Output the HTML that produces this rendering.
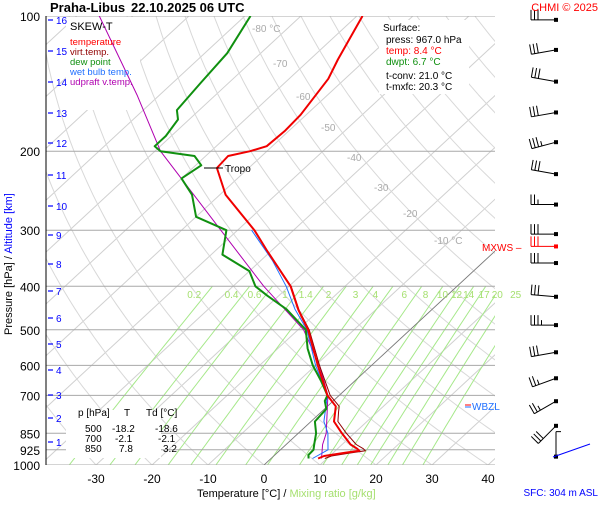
<!DOCTYPE html>
<html><head><meta charset="utf-8"><style>
body{margin:0;background:#fff}
svg{font-family:"Liberation Sans",sans-serif}
</style></head><body>
<svg id="c" width="600" height="500" viewBox="0 0 600 500" xmlns="http://www.w3.org/2000/svg">
<rect width="600" height="500" fill="#fff"/>
<defs><clipPath id="pa"><rect x="46" y="16" width="449" height="449"/></clipPath></defs>
<g id="grid" clip-path="url(#pa)"></g>
<rect x="66" y="17" width="74" height="93" fill="#fff"/>
<rect x="379" y="20" width="90" height="74" fill="#fff"/>
<g id="series" clip-path="url(#pa)"></g>
<g id="axes"></g>
<g id="barbs"></g>
</svg>
<script>
// ---- data ----
const pressureTicks=[100,200,300,400,500,600,700,850,925,1000];
const altTicks=[1,2,3,4,5,6,7,8,9,10,11,12,13,14,15,16];
const altTickY=[442,418,395,370,344,318,291,264,235,206,175,143,113,82,51,20];
const tempTicks=[-30,-20,-10,0,10,20,30,40];
const isoLabels=[-80,-70,-60,-50,-40,-30,-20,-10];
const mixRatios=[0.2,0.4,0.6,1,1.4,2,3,4,6,8,10,12,14,17,20,25];
const tP=[967,955,940,930,920,900,850,800,760,740,700,600,500,452,400,332,300,250,218,205,200,195,180,166,138,125,100];
const tT=[8.4,9.0,12,14.3,13.5,11.5,7.8,4.1,2.4,1.5,-2.1,-9.6,-18.2,-23.7,-29.7,-41,-47,-59,-65.7,-66,-63,-61,-60.7,-61,-63,-65,-69];
const tvT=[9.6,10.3,13.2,15.4,14.6,12.5,8.6,4.8,3.0,2.1,-1.6,-9.3,-18.0,-23.6,-29.6,-41,-47,-59,-65.7,-66,-63,-61,-60.7,-61,-63,-65,-69];
const dP=[967,950,925,900,850,800,750,720,700,650,600,550,500,450,420,400,370,340,300,280,250,230,215,205,200,195,185,170,162,141,121,100];
const dT=[6.7,6,5.9,5,3.2,0.7,0.3,-1.5,-2.1,-6,-10.5,-14.7,-18.6,-26,-32,-36,-40,-48,-52,-60,-65,-70,-69,-72,-79,-81,-81,-82,-84,-85,-86,-89];
const wP=[967,925,850,800,700,600,500,450,400,350,300];
const wT=[7.4,8.5,5.3,2.3,-2.1,-10,-18.4,-24.5,-30.5,-38,-47.5];
const uP=[967,900,850,700,600,500,400,300,200,150,100];
const uT=[9,6.5,5,-2,-9.3,-19,-34.5,-53,-79,-94,-116];
const barbP=[102,119,140,164,191,225,263,306,326,355,422,488,561,641,721,818,958];
const barbDir=[270,260,280,260,255,280,270,270,270,270,275,270,260,250,240,225,0];
const barbSpd=[30,30,30,30,35,30,25,30,30,30,30,35,30,25,25,30,5];
// ---- scales ----
function Y(p){return 16+449*Math.log10(p/100);}
function X(t,p){return 264+5.6*t+1.08*(465-Y(p));}
const NS="http://www.w3.org/2000/svg";
function mk(tag,attrs,parent){const e=document.createElementNS(NS,tag);for(const k in attrs)e.setAttribute(k,attrs[k]);parent.appendChild(e);return e;}
const grid=document.getElementById('grid'),series=document.getElementById('series'),axes=document.getElementById('axes'),barbs=document.getElementById('barbs');
function poly(pts,stroke,w,parent,name){const e=mk('polyline',{points:pts.map(a=>a[0].toFixed(1)+','+a[1].toFixed(1)).join(' '),fill:'none',stroke:stroke,'stroke-width':w,'stroke-linejoin':'round'},parent);

return e;}
function txt(x,y,s,attrs,parent,name){const e=mk('text',Object.assign({x:x,y:y},attrs),parent);e.textContent=s;

return e;}
// isotherms
for(let t=-160;t<=40;t+=10){poly([[X(t,1000),Y(1000)],[X(t,100),Y(100)]],'#d0d0d0',1,grid,'isotherm');}
// dry adiabats
for(let th=-40;th<=220;th+=10){const pts=[];for(let p=1000;p>=100;p-=10){pts.push([X((th+273.15)*Math.pow(p/1000,0.286)-273.15,p),Y(p)]);}poly(pts,'#d8d8d8',1,grid,'dry-adiabat');}
// mixing ratio lines
function tdFromW(w,p){const e=w*p/(622+w);const l=Math.log(e/6.112);return 243.5*l/(17.67-l);}
mixRatios.forEach(w=>{const pts=[];for(let p=1000;p>=400;p-=20){pts.push([X(tdFromW(w,p),p),Y(p)]);}poly(pts,'#a6e88a',1,grid,'mixing-ratio-line');});
// pressure lines
pressureTicks.forEach(p=>{poly([[46,Y(p)],[495,Y(p)]],'#a8a8a8',1,grid,'pressure-gridline');});
// 0C black line
poly([[X(0,1000),Y(1000)],[X(0,300),Y(300)]],'#777',0.8,grid,'zero-isotherm');
// isotherm labels
const isoLabelY=[28,63,96,127,157,187,213,240];
const isoLabelX=[252,273,296,321,347,374,403,434];
isoLabels.forEach((t,i)=>{txt(isoLabelX[i],isoLabelY[i]+4,(t==-80||t==-10)?t+' °C':String(t),{fill:'#aaa','font-size':'10'},grid,'isotherm-label');});
// series
function prof(P,T){return P.map((p,i)=>[X(T[i],p),Y(p)]);}
poly(prof(uP,uT),'#b000b0',1,series,'updraft-vtemp-line');
poly(prof(wP,wT),'#2070ff',1,series,'wet-bulb-line');
poly(prof(tP,tvT),'#900000',1,series,'virtual-temp-line');
poly(prof(dP,dT),'#109010',2,series,'dew-point-line');
poly(prof(tP,tT),'#f00000',2,series,'temperature-line');
// axes
mk('line',{x1:46,y1:16,x2:46,y2:465,stroke:'#000','stroke-width':1},axes);
pressureTicks.forEach(p=>{txt(40,Y(p)+5,String(p),{'text-anchor':'end','font-size':'12',fill:'#000'},axes,'pressure-tick-label');});
altTicks.forEach((a,i)=>{mk('line',{x1:48,y1:altTickY[i],x2:53,y2:altTickY[i],stroke:'#0000ff','stroke-width':1.2},axes);txt(56,altTickY[i]+4,String(a),{'font-size':'10',fill:'#0000ff'},axes,'altitude-tick-label');});
tempTicks.forEach(t=>{txt(X(t,1000),483,String(t),{'text-anchor':'middle','font-size':'12',fill:'#000'},axes,'temperature-tick-label');});
mixRatios.forEach(w=>{txt(X(tdFromW(w,416),416)-12,298,String(w),{'text-anchor':'middle','font-size':'10',fill:'#a6e070'},axes,'mixing-ratio-label');});
</script>
<svg width="600" height="500" style="position:absolute;left:0;top:0" xmlns="http://www.w3.org/2000/svg" font-family="Liberation Sans, sans-serif">
<text x="50" y="12" font-size="13" font-weight="bold">Praha-Libus</text>
<text x="131" y="12" font-size="13" font-weight="bold">22.10.2025 06 UTC</text>
<text x="598" y="11" font-size="11" fill="#ff0000" text-anchor="end">CHMI © 2025</text>
<g>
<text x="70" y="30" font-size="11" fill="#000">SKEW-T</text>
<text x="70" y="45" font-size="9.5" fill="#ff0000">temperature</text>
<text x="70" y="55" font-size="9.5" fill="#900000">virt.temp.</text>
<text x="70" y="65" font-size="9.5" fill="#109010">dew point</text>
<text x="70" y="75" font-size="9.5" fill="#2070ff">wet bulb temp.</text>
<text x="70" y="85" font-size="9.5" fill="#b000b0">udpraft v.temp.</text>
</g>
<g>
<text x="383" y="31" font-size="10">Surface:</text>
<text x="386" y="43" font-size="10">press: 967.0 hPa</text>
<text x="386" y="54" font-size="10" fill="#ff0000">temp: 8.4 °C</text>
<text x="386" y="65" font-size="10" fill="#109010">dwpt: 6.7 °C</text>
<text x="386" y="79" font-size="10">t-conv: 21.0 °C</text>
<text x="386" y="90" font-size="10">t-mxfc: 20.3 °C</text>
</g>
<g>
<line x1="204" y1="168" x2="223" y2="168" stroke="#000"/>
<text x="225" y="172" font-size="10">Tropo</text>
</g>
<g>
<rect x="66" y="410" width="95" height="48" fill="#fff"/>
<text x="78" y="416" font-size="10">p [hPa]</text><text x="124" y="416" font-size="10">T</text><text x="146" y="416" font-size="10">Td [°C]</text>
<text x="85" y="432" font-size="10">500</text><text x="112" y="432" font-size="10">-18.2</text><text x="155" y="432" font-size="10">-18.6</text>
<text x="85" y="442" font-size="10">700</text><text x="115" y="442" font-size="10">-2.1</text><text x="158" y="442" font-size="10">-2.1</text>
<text x="85" y="452" font-size="10">850</text><text x="119" y="452" font-size="10">7.8</text><text x="163" y="452" font-size="10">3.2</text>
</g>
<g><text x="482" y="251" font-size="10" fill="#ff0000">MXWS –</text></g>
<g><line x1="465" y1="405" x2="471" y2="405" stroke="#ff0000"/><line x1="465" y1="407" x2="471" y2="407" stroke="#2070ff"/><text x="472" y="410" font-size="10" fill="#2070ff">WBZL</text></g>
<text x="197" y="497" font-size="11">Temperature [°C]  /  <tspan fill="#a6e070">Mixing ratio [g/kg]</tspan></text>
<text x="598" y="496" font-size="10" fill="#0000ff" text-anchor="end">SFC: 304 m ASL</text>
<text transform="translate(12,335) rotate(-90)" font-size="11">Pressure [hPa]  /  <tspan fill="#0000ff">Altitude [km]</tspan></text>
</svg>
<script>
(function(){
const g=document.getElementById('barbs');
function Yp(p){return 16+449*Math.log10(p/100);}
barbP.forEach((p,i)=>{
 const cx=556,cy=Yp(p),col=(p==326)?'#ff0000':'#000';
 const a=barbDir[i]*Math.PI/180;const dx=Math.sin(a),dy=-Math.cos(a);
 const L=25,ex=cx+dx*L,ey=cy+dy*L;
 const grp=document.createElementNS(NS,'g');
 
 
 g.appendChild(grp);
 mk('line',{x1:cx,y1:cy,x2:ex,y2:ey,stroke:col,'stroke-width':1},grp);
 mk('rect',{x:cx-2,y:cy-2,width:4,height:4,fill:col},grp);
 let s=barbSpd[i],k=0;const px=-dy,py=dx;
 while(s>=10){const bx=ex-dx*k*3.5,by=ey-dy*k*3.5;mk('line',{x1:bx,y1:by,x2:bx+px*10,y2:by+py*10,stroke:col,'stroke-width':1},grp);s-=10;k++;}
 if(s>=5){const bx=ex-dx*k*3.5,by=ey-dy*k*3.5;mk('line',{x1:bx,y1:by,x2:bx+px*5,y2:by+py*5,stroke:col,'stroke-width':1},grp);}
});
mk('line',{x1:553,y1:457,x2:590,y2:444,stroke:'#0000ff','stroke-width':1},g);
})();
</script>
</body></html>
